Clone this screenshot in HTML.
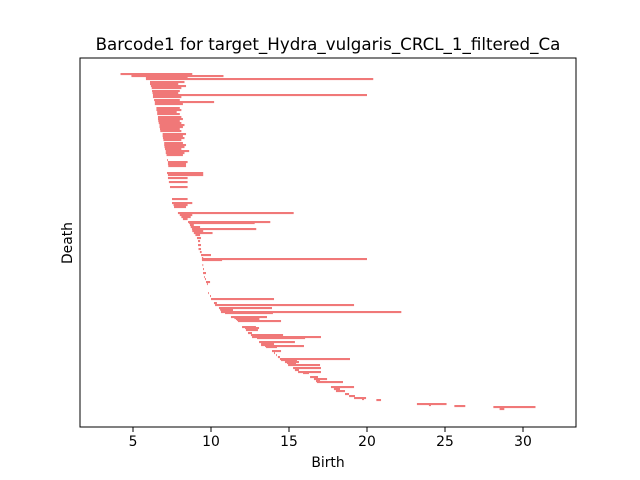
<!DOCTYPE html>
<html><head><meta charset="utf-8"><style>
body{margin:0;background:#fff}
svg{display:block}
text{font-family:"DejaVu Sans","Liberation Sans",sans-serif;fill:#000}
</style></head><body>
<svg id="chart" width="640" height="480" xmlns="http://www.w3.org/2000/svg">
<rect x="0" y="0" width="640" height="480" fill="#fff"/>
<text x="328" y="50" font-size="16.7" text-anchor="middle">Barcode1 for target_Hydra_vulgaris_CRCL_1_filtered_Ca</text>
<g id="bars"></g>
<g id="xaxis"></g>
<rect x="80" y="58" width="496" height="369" fill="none" stroke="#000" stroke-width="1"/>
<text x="328" y="467" font-size="13.9" text-anchor="middle">Birth</text>
<text x="72" y="243" font-size="13.9" text-anchor="middle" transform="rotate(-90 72 243)">Death</text>
</svg>
<script>
const ranks=[2,3,4,5,6,7,10,12,14,16,19,21,23,25,28,30,32,36,38,40,42,45,47,49,51,53,55,57,59,62,64,66,68,71,73,75,77,79,81,83,88,90,92,94,101,103,106,110,115,127,131,133,135,141,143,145,147,150,151,153,155,157,159,161,163,166,169,173,177,180,183,186,187,188,193,197,201,205,207,210,212,221,224,227,231,233,236,237,238,240,241,245,246,247,248,249,255,256,258,261,263,265,266,270,272,273,274,275,279,281,283,285,287,288,290,291,293,296,298,300,301,305,307,309,310,315,317,319,322,324,326,327,328,332,333,334,335,337];
const births=[4.2,4.9,4.9,5.83,5.83,5.83,6.09,6.09,6.15,6.2,6.22,6.25,6.28,6.28,6.35,6.4,6.4,6.5,6.5,6.55,6.55,6.6,6.6,6.62,6.65,6.7,6.7,6.73,6.75,6.9,6.9,6.92,6.95,7.0,7.0,7.02,7.05,7.1,7.1,7.15,7.18,7.24,7.24,7.26,7.18,7.24,7.24,7.3,7.37,7.5,7.5,7.6,7.63,7.88,8.0,8.1,8.2,8.53,8.6,8.65,8.7,8.78,8.8,8.9,9.0,9.1,9.17,9.17,9.2,9.29,9.36,9.42,9.42,9.42,9.45,9.49,9.49,9.55,9.62,9.68,9.74,9.81,9.94,10.0,10.19,10.26,10.51,10.58,10.6,10.64,10.9,11.28,11.5,11.6,11.67,11.73,11.99,12.18,12.24,12.37,12.56,12.63,12.95,13.08,13.21,13.21,13.46,13.53,13.91,14.04,14.17,14.29,14.42,14.49,14.74,14.87,14.94,15.26,15.38,15.58,15.9,16.35,16.6,16.73,16.79,17.69,17.88,18.01,18.59,18.85,19.17,19.68,20.6,23.2,23.97,25.6,28.1,28.5];
const deaths=[8.8,8.2,10.8,8.5,8.0,20.4,8.3,7.9,8.4,8.1,8.0,7.9,20.0,8.1,8.0,10.2,8.2,8.0,8.1,7.8,8.0,8.1,8.2,8.0,8.1,8.3,8.2,8.0,8.1,8.4,8.2,8.3,8.1,8.2,8.4,8.3,8.1,8.6,8.3,8.2,7.2,8.5,8.4,8.4,9.5,9.5,8.5,8.5,8.5,8.5,8.8,8.5,8.4,15.3,8.8,8.7,8.5,13.8,12.8,8.9,9.3,12.9,9.5,10.1,9.3,9.36,9.3,9.36,9.36,9.4,10.0,9.5,20.0,10.71,9.5,9.55,9.68,9.6,9.68,9.94,9.8,9.86,10.0,14.04,10.38,19.17,13.91,11.41,11.41,22.2,13.97,13.59,12.88,13.1,13.08,14.49,12.88,13.08,13.01,12.63,14.62,17.05,16.03,15.38,14.04,14.04,15.96,14.23,14.49,14.1,14.2,14.42,18.91,15.51,15.64,15.45,16.99,17.05,15.64,17.05,16.28,16.86,17.44,16.99,18.46,19.17,18.27,18.59,18.85,19.23,19.94,19.81,20.9,25.1,24.1,26.3,30.8,28.8];
const xTicks=[5,10,15,20,25,30];
const xTickLabels=["5","10","15","20","25","30"];
const NS="http://www.w3.org/2000/svg";
function xScale(v){return 55+15.6*v;}
function yScale(r){return 72+r;}
const gb=document.getElementById('bars');
for(let i=0;i<ranks.length;i++){
  const r=document.createElementNS(NS,'rect');
  const x0=xScale(births[i]),x1=xScale(deaths[i]);
  r.setAttribute('x',x0);
  r.setAttribute('y',yScale(ranks[i])-1);
  r.setAttribute('width',Math.max(0.8,x1-x0));
  r.setAttribute('height',2.1);
  r.setAttribute('fill','#f07878');
  
  
  gb.appendChild(r);
}
const gx=document.getElementById('xaxis');
for(let i=0;i<xTicks.length;i++){
  const x=xScale(xTicks[i]);
  const l=document.createElementNS(NS,'line');
  l.setAttribute('x1',x);l.setAttribute('x2',x);
  l.setAttribute('y1',427);l.setAttribute('y2',432);
  l.setAttribute('stroke','#000');
  
  
  gx.appendChild(l);
  const t=document.createElementNS(NS,'text');
  t.setAttribute('x',x);t.setAttribute('y',446);
  t.setAttribute('font-size','13.9');
  t.setAttribute('text-anchor','middle');
  t.textContent=xTickLabels[i];
  
  
  gx.appendChild(t);
}
</script>
</body></html>
